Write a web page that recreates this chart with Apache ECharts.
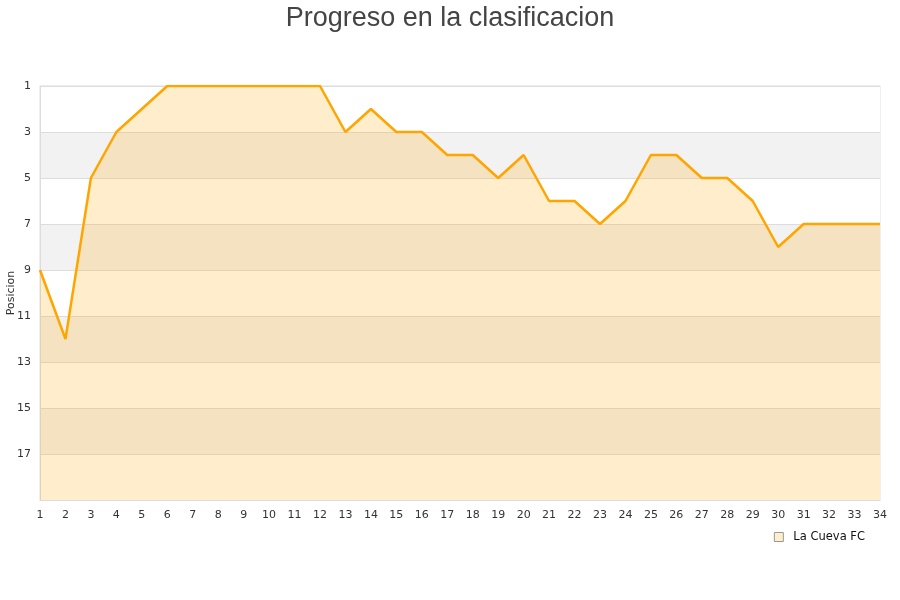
<!DOCTYPE html>
<html><head><meta charset="utf-8">
<script src="https://cdn.jsdelivr.net/npm/echarts@6/dist/echarts.min.js"></script>
<style>html,body{margin:0;padding:0;background:#fff}#c{width:900px;height:600px}</style>
</head><body><div id="c"></div>
<script>
const jornadas = ['1','2','3','4','5','6','7','8','9','10','11','12','13','14','15','16','17','18','19','20','21','22','23','24','25','26','27','28','29','30','31','32','33','34'];
const posiciones = [9,12,5,3,2,1,1,1,1,1,1,1,3,2,3,3,4,4,5,4,6,6,7,6,4,4,5,5,6,8,7,7,7,7];
const yTicks = [1,3,5,7,9,11,13,15,17];
const chart = echarts.init(document.getElementById('c'));
chart.setOption({
  animation:false,
  title:{text:'Progreso en la clasificacion',left:'center',top:0,textStyle:{fontFamily:'Liberation Sans, Arial',fontSize:27,fontWeight:'normal',color:'#444'}},
  grid:{left:40,right:20,top:86,bottom:100,show:true,borderColor:'#ddd',borderWidth:1,containLabel:false,outerBoundsMode:'none'},
  legend:{right:30,top:526,itemWidth:9,itemHeight:9,itemGap:10,icon:'rect',textStyle:{fontFamily:'DejaVu Sans',fontSize:11.5,color:'#111',padding:[0,0,0,5]},
    data:[{name:'La Cueva FC',itemStyle:{color:'#ffedcc',borderColor:'#999',borderWidth:1}}]},
  xAxis:{type:'category',data:jornadas,boundaryGap:false,
    axisLine:{lineStyle:{color:'#ddd'}},axisTick:{show:false},
    axisLabel:{color:'#333',fontFamily:'DejaVu Sans',fontSize:11,margin:10,interval:0},splitLine:{show:false}},
  yAxis:{type:'value',inverse:true,min:1,max:19,interval:2,name:'Posicion',nameLocation:'middle',nameGap:23,nameMoveOverlap:false,
    nameTextStyle:{fontFamily:'DejaVu Sans',fontSize:11,color:'#333'},
    axisLine:{show:true,lineStyle:{color:'#ddd'}},axisTick:{show:false},
    axisLabel:{color:'#333',fontFamily:'DejaVu Sans',fontSize:11,margin:9,padding:[4,0,0,0],
      formatter:function(v){return yTicks.indexOf(v)>=0?String(v):'';}},
    splitLine:{show:true,lineStyle:{color:'#ddd'}},
    splitArea:{show:true,areaStyle:{color:['#ffffff','#f2f2f2']}}},
  series:[{name:'La Cueva FC',type:'line',data:posiciones,symbol:'none',
    lineStyle:{color:'#ffa500',width:2.5},itemStyle:{color:'#ffa500'},
    areaStyle:{color:'#ffa500',opacity:0.2,origin:'end'}}]
});
</script></body></html>
